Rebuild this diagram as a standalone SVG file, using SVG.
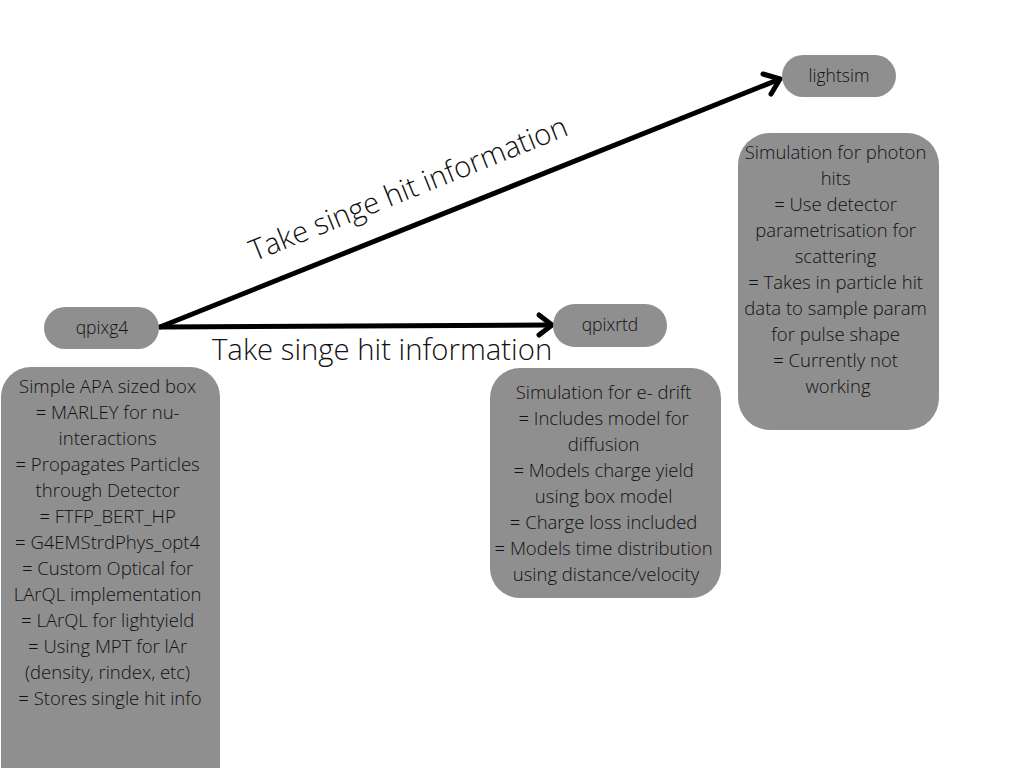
<svg xmlns="http://www.w3.org/2000/svg" width="1024" height="768" viewBox="0 0 1024 768">
<style>
.box{fill:#8f8f8f;}
.t{font-family:"Open Sans","Liberation Sans",sans-serif;font-weight:300;fill:#111;text-anchor:middle;}
.b{font-size:18.5px;}
.p{font-size:17.5px;}
.lbl{font-family:"Open Sans","Liberation Sans",sans-serif;font-weight:300;fill:#111;font-size:29.3px;text-anchor:middle;}
.c{stroke:#000;stroke-width:5;fill:none;stroke-linecap:round;stroke-linejoin:round;}
</style>
<rect width="1024" height="768" fill="#fff"/>
<g id="connectors">
<line class="c" x1="160" y1="327" x2="551" y2="325"/>
<polyline class="c" points="539,315 552,325 539,335"/>
<line class="c" x1="160" y1="327" x2="780" y2="79"/>
<polyline class="c" points="763,74 780,79 771,94"/>
<text class="lbl" x="212" y="360" style="text-anchor:start">Take singe hit information</text>
<text class="lbl" transform="translate(412,198) rotate(-21.9)">Take singe hit information</text>
</g>
<g id="qpixg4">
<rect class="box" x="44" y="307" width="115" height="42" rx="21"/>
<text class="t p" x="102" y="334">qpixg4</text>
</g>
<g id="qpixg4-desc">
<rect class="box" x="1" y="367" width="219" height="440" rx="30"/>
<text class="t b">
<tspan x="110" y="393">Simple APA sized box</tspan>
<tspan x="110" y="419">= MARLEY for nu-</tspan>
<tspan x="110" y="445">interactions</tspan>
<tspan x="110" y="471">= Propagates Particles</tspan>
<tspan x="110" y="497">through Detector</tspan>
<tspan x="110" y="523">= FTFP_BERT_HP</tspan>
<tspan x="110" y="549">= G4EMStrdPhys_opt4</tspan>
<tspan x="110" y="575">= Custom Optical for</tspan>
<tspan x="110" y="601">LArQL implementation</tspan>
<tspan x="110" y="627">= LArQL for lightyield</tspan>
<tspan x="110" y="653">= Using MPT for lAr</tspan>
<tspan x="110" y="679">(density, rindex, etc)</tspan>
<tspan x="110" y="705">= Stores single hit info</tspan>
</text>
</g>
<g id="qpixrtd">
<rect class="box" x="553" y="304" width="114" height="43" rx="21.5"/>
<text class="t p" x="610" y="331">qpixrtd</text>
</g>
<g id="qpixrtd-desc">
<rect class="box" x="490" y="368" width="231" height="230" rx="30"/>
<text class="t b">
<tspan x="606" y="399">Simulation for e- drift</tspan>
<tspan x="606" y="425">= Includes model for</tspan>
<tspan x="606" y="451">diffusion</tspan>
<tspan x="606" y="477">= Models charge yield</tspan>
<tspan x="606" y="503">using box model</tspan>
<tspan x="606" y="529">= Charge loss included</tspan>
<tspan x="606" y="555">= Models time distribution</tspan>
<tspan x="606" y="581">using distance/velocity</tspan>
</text>
</g>
<g id="lightsim">
<rect class="box" x="782" y="55" width="114" height="42" rx="21"/>
<text class="t p" x="839" y="82">lightsim</text>
</g>
<g id="lightsim-desc">
<rect class="box" x="738" y="133" width="201" height="297" rx="32"/>
<text class="t b">
<tspan x="838" y="159">Simulation for photon</tspan>
<tspan x="838" y="185">hits</tspan>
<tspan x="838" y="211">= Use detector</tspan>
<tspan x="838" y="237">parametrisation for</tspan>
<tspan x="838" y="263">scattering</tspan>
<tspan x="838" y="289">= Takes in particle hit</tspan>
<tspan x="838" y="315">data to sample param</tspan>
<tspan x="838" y="341">for pulse shape</tspan>
<tspan x="838" y="367">= Currently not</tspan>
<tspan x="838" y="393">working</tspan>
</text>
</g>
</svg>
